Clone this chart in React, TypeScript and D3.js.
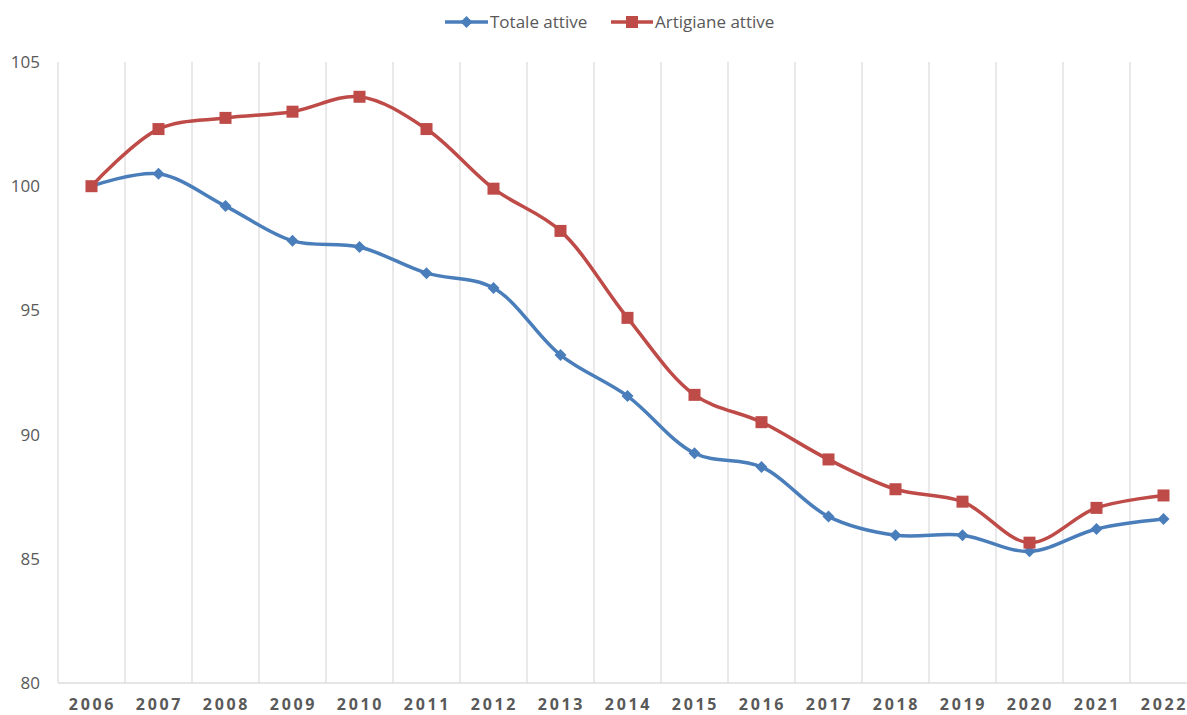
import React from "react";
import * as d3 from "d3";

const years = ["2006","2007","2008","2009","2010","2011","2012","2013","2014","2015","2016","2017","2018","2019","2020","2021","2022"];
const totale = [100, 100.5, 99.2, 97.8, 97.55, 96.5, 95.9, 93.2, 91.55, 89.25, 88.7, 86.7, 85.95, 85.95, 85.3, 86.2, 86.6];
const artigiane = [100, 102.3, 102.75, 103.0, 103.6, 102.3, 99.9, 98.2, 94.7, 91.6, 90.5, 89.0, 87.8, 87.3, 85.65, 87.05, 87.55];
const yTicks = [80, 85, 90, 95, 100, 105];

const W = 1187, H = 715;
const left = 58, right = 1197, top = 62, bottom = 683;
const blue = "#4A7EBB";
const red = "#BE4B48";

export default function App() {
  const x = d3.scaleBand<string>().domain(years).range([left, right]).padding(0);
  const y = d3.scaleLinear().domain([80, 105]).range([bottom, top]);
  const cx = (i: number) => (x(years[i]) as number) + x.bandwidth() / 2;
  const line = d3.line<number>().x((_, i) => cx(i)).y((d) => y(d)).curve(d3.curveCatmullRom.alpha(0.5));
  const font = "'Open Sans', 'Liberation Sans', Arial, sans-serif";
  const diamond = (px: number, py: number, r: number) => `M${px},${py - r}L${px + r},${py}L${px},${py + r}L${px - r},${py}Z`;
  return (
    <svg width={W} height={H} style={{ position: "absolute", left: 0, top: 0, background: "#fff" }} fontFamily={font}>
      {years.map((yr) => (
        <line key={yr} x1={x(yr) as number} x2={x(yr) as number} y1={top} y2={bottom} stroke="#DDDDDD" strokeWidth={1.3} />
      ))}
      <line x1={right} x2={right} y1={top} y2={bottom} stroke="#DDDDDD" strokeWidth={1.3} />
      <line x1={left} x2={right} y1={bottom} y2={bottom} stroke="#DDDDDD" strokeWidth={1.3} />
      {yTicks.map((t) => (
        <text key={t} x={40} y={y(t)} dy="0.35em" textAnchor="end" fontSize={17} fill="#595959">{t}</text>
      ))}
      {years.map((yr) => (
        <text key={yr} x={(x(yr) as number) + x.bandwidth() / 2 + 1} y={704} dy="0.35em" textAnchor="middle" fontSize={16} fontWeight="bold" letterSpacing={2.7} fill="#595959">{yr}</text>
      ))}
      <path d={line(totale) || ""} fill="none" stroke={blue} strokeWidth={3.5} />
      <path d={line(artigiane) || ""} fill="none" stroke={red} strokeWidth={3.5} />
      {totale.map((v, i) => (
        <path key={"t" + i} d={diamond(cx(i), y(v), 6)} fill={blue} />
      ))}
      {artigiane.map((v, i) => (
        <rect key={"a" + i} x={cx(i) - 6} y={y(v) - 6} width={12} height={12} fill={red} />
      ))}
      <g>
        <line x1={445} x2={488} y1={22} y2={22} stroke={blue} strokeWidth={3.5} />
        <path d={diamond(466.5, 22, 6)} fill={blue} />
        <text x={490} y={22} dy="0.35em" fontSize={17} fill="#595959">Totale attive</text>
        <line x1={611} x2={653} y1={22} y2={22} stroke={red} strokeWidth={3.5} />
        <rect x={626} y={16} width={12} height={12} fill={red} />
        <text x={655} y={22} dy="0.35em" fontSize={17} fill="#595959">Artigiane attive</text>
      </g>
    </svg>
  );
}
